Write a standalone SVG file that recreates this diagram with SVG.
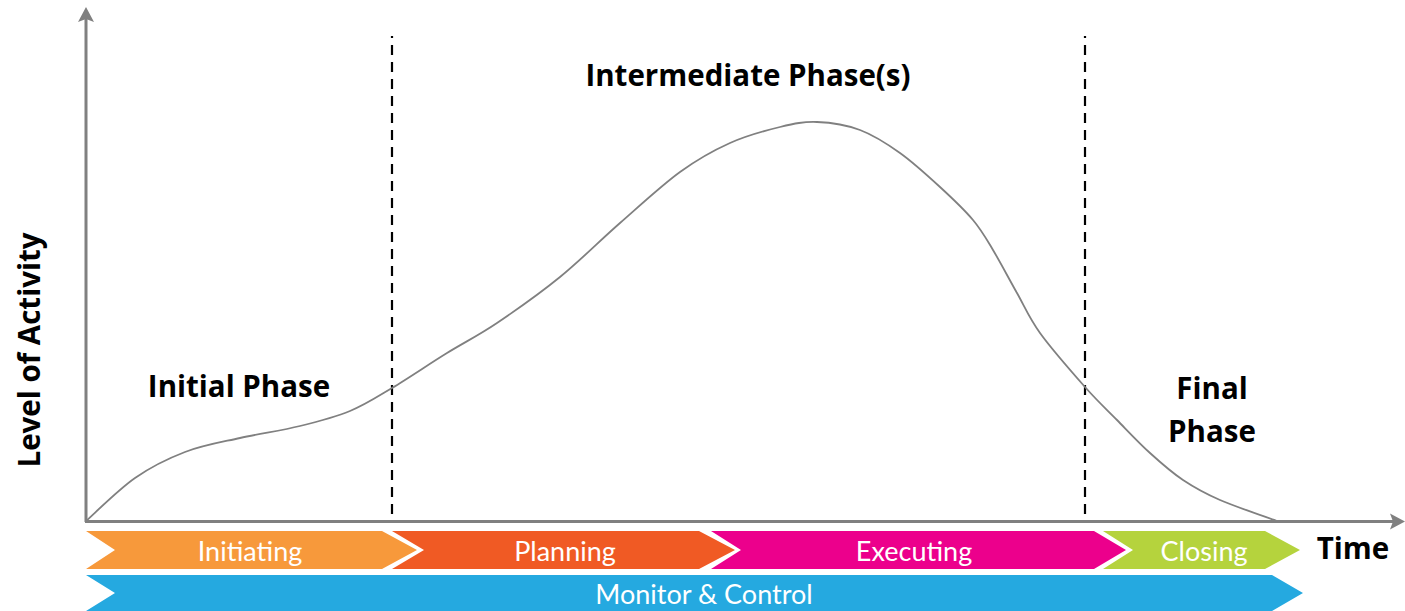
<svg xmlns="http://www.w3.org/2000/svg" width="1405" height="611" viewBox="0 0 1405 611">
  <style>
    .axis { stroke: #808080; stroke-width: 3; fill: none; }
    .divider { stroke: #000000; stroke-width: 2.2; stroke-dasharray: 10 7; stroke-dashoffset: 8; fill: none; }
    .curve { stroke: #808080; stroke-width: 1.8; fill: none; stroke-linecap: round; }
    .title { font-family: "Open Sans", "Liberation Sans", sans-serif; font-weight: 700; font-size: 29.5px; fill: #000000; text-anchor: middle; }
    .bar-label { font-family: Lato, "Open Sans", "Liberation Sans", sans-serif; font-size: 27px; fill: #ffffff; text-anchor: middle; }
  </style>
  <defs>
    <marker id="arrowhead" markerUnits="userSpaceOnUse" viewBox="-4 -9 17 18" refX="0" refY="0" markerWidth="17" markerHeight="18" orient="auto" overflow="visible">
      <path d="M12,0 L-3,-8 L0,0 L-3,8 Z" fill="#808080"/>
    </marker>
  </defs>
  <rect width="1405" height="611" fill="#ffffff"/>

  <g id="connectors">
    <line class="axis" x1="86" y1="522" x2="86" y2="19" marker-end="url(#arrowhead)"/>
    <line class="axis" x1="85" y1="521.5" x2="1393" y2="521.5" marker-end="url(#arrowhead)"/>
    <line class="divider" x1="392" y1="36" x2="392" y2="520"/>
    <line class="divider" x1="1085" y1="36" x2="1085" y2="520"/>
    <path id="activity-curve" class="curve" d="M86,521 C94.2,513.8 118.5,489.5 135,478 C151.5,466.5 167.5,458.7 185,452 C202.5,445.3 220.8,442.3 240,438 C259.2,433.7 281.7,430.5 300,426 C318.3,421.5 334.7,417.3 350,411 C365.3,404.7 375.8,397.7 392,388 C408.2,378.3 429.5,363.8 447,353 C464.5,342.2 478.2,335.7 497,323 C515.8,310.3 539.5,293.7 560,277 C580.5,260.3 600,240.5 620,223 C640,205.5 661.7,185.3 680,172 C698.3,158.7 713.3,150.5 730,143 C746.7,135.5 765.5,130.5 780,127 C794.5,123.5 803.7,121.5 817,122 C830.3,122.5 846.2,124.8 860,130 C873.8,135.2 886.7,143.5 900,153 C913.3,162.5 927.8,175.8 940,187 C952.2,198.2 964.2,209.5 973,220 C981.8,230.5 985.7,237.8 993,250 C1000.3,262.2 1009.2,279.2 1017,293 C1024.8,306.8 1028.7,317.3 1040,333 C1051.3,348.7 1072.2,372.5 1085,387 C1097.8,401.5 1106.2,409 1117,420 C1127.8,431 1139,443 1150,453 C1161,463 1171.3,472.2 1183,480 C1194.7,487.8 1204.3,493.2 1220,500 C1235.7,506.8 1267.5,517.5 1277,521"/>
  </g>

  <g id="axis-labels">
    <text class="title" transform="translate(40,350) rotate(-90)" x="0" y="0">Level of Activity</text>
    <text class="title" x="1353" y="559">Time</text>
  </g>

  <g id="phase-initial">
    <text class="title" x="239" y="397">Initial Phase</text>
  </g>
  <g id="phase-intermediate">
    <text class="title" x="748" y="86">Intermediate Phase(s)</text>
  </g>
  <g id="phase-final">
    <text class="title" x="1212" y="399">Final</text>
    <text class="title" x="1212" y="442">Phase</text>
  </g>

  <g id="stage-initiating">
    <path d="M86,531 L382,531 L417,550 L382,569 L86,569 L115,550 Z" fill="#F7993B"/>
    <text class="bar-label" x="250" y="561">Initiating</text>
  </g>
  <g id="stage-planning">
    <path d="M392,531 L699,531 L735,550 L699,569 L392,569 L424,550 Z" fill="#F05A24"/>
    <text class="bar-label" x="565" y="561">Planning</text>
  </g>
  <g id="stage-executing">
    <path d="M711,531 L1094,531 L1126,550 L1094,569 L711,569 L741,550 Z" fill="#EC008C"/>
    <text class="bar-label" x="914" y="561">Executing</text>
  </g>
  <g id="stage-closing">
    <path d="M1103,531 L1265,531 L1300,550 L1265,569 L1103,569 L1133,550 Z" fill="#B5D33D"/>
    <text class="bar-label" x="1204" y="561">Closing</text>
  </g>
  <g id="stage-monitor">
    <path d="M86,575 L1272,575 L1303,593 L1272,611 L86,611 L115,593 Z" fill="#25A9E0"/>
    <text class="bar-label" x="704" y="604">Monitor &amp; Control</text>
  </g>
</svg>
